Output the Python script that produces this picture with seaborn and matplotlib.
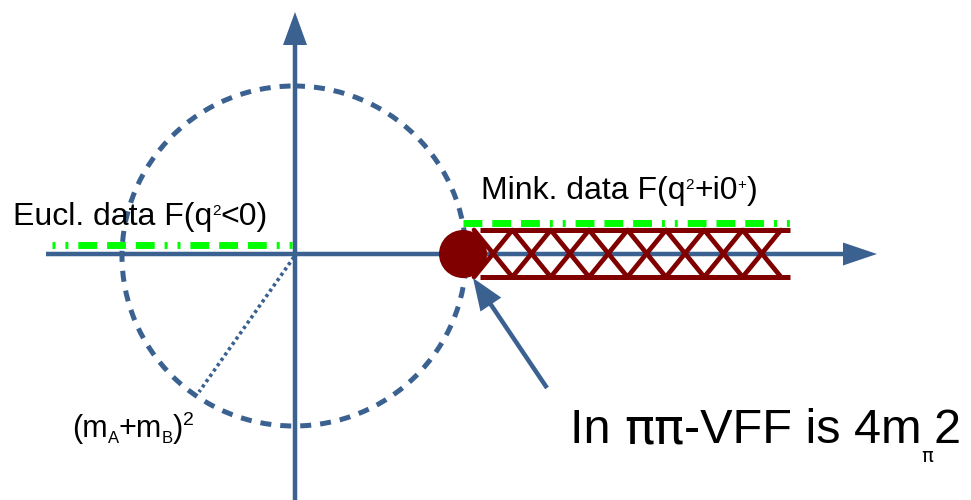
import numpy as np
import matplotlib
matplotlib.use('Agg')
import matplotlib.pyplot as plt
from matplotlib.patches import FancyArrow, Circle, Ellipse
import seaborn as sns

sns.set_theme(style='white')
plt.rcParams['font.family'] = ['Liberation Sans', 'DejaVu Sans']

# colours
blue = '#3b6190'
maroon = '#800000'
lime = '#00ff00'

# diagram geometry, pixel units (y grows downwards)
origin_x, origin_y = 295, 254
real_axis_x = [46, 877]
imag_axis_y = [500, 12]
circle_center = (294, 256)
circle_rx, circle_ry = 172, 170
threshold_x = 463
cut_x = [480, 790]
cut_top, cut_bottom = 230, 277
zigzag_x = [474, 781]
n_crosses = 8
eucl_x = [52, 295]
eucl_y = 245
mink_x = [463, 790]
mink_y = 223
radius_x = [294, 199]
radius_y = [257, 392]
pointer_tail = (547, 388)
pointer_tip = (473, 278)

# labels: (text, fontsize, vertical shift, font)
sans = 'Liberation Sans'
greek = 'DejaVu Sans'
eucl_label = [('Eucl. data F(q', 23, 0, sans), ('2', 11, -10, sans), ('<0)', 23, 0, sans)]
mink_label = [('Mink. data F(q', 23, 0, sans), ('2', 11, -10, sans), ('+i0', 23, 0, sans),
              ('+', 11, -10, sans), (')', 23, 0, sans)]
mass_label = [('(m', 22, 0, sans), ('A', 12, 6, sans), ('+m', 22, 0, sans), ('B', 12, 6, sans),
              (')', 22, 0, sans), ('2', 14, -12, sans)]
pion_label = [('In ', 35, 0, sans), ('ππ', 36, 0, greek), ('-VFF is 4m', 35, 0, sans),
              ('π', 14, 19, greek), ('2', 35, 0, sans)]

fig = plt.figure(figsize=(9.71, 5.0), dpi=100)
ax = fig.add_axes([0, 0, 1, 1])

# dashed circle
ax.add_patch(Ellipse(circle_center, 2 * circle_rx, 2 * circle_ry, fill=False,
                     edgecolor=blue, lw=3.6, linestyle=(0, (2.2, 1.8)), zorder=1))

# dotted radius
sns.lineplot(x=radius_x, y=radius_y, sort=False, estimator=None, color=blue, lw=2.6, ax=ax)
ax.lines[-1].set_linestyle((0, (0.9, 0.9)))
ax.lines[-1].set_zorder(1)

# axes arrows
ax.add_patch(FancyArrow(real_axis_x[0], origin_y, real_axis_x[1] - real_axis_x[0], 0,
                        width=4.5, head_width=23, head_length=34,
                        length_includes_head=True, color=blue, lw=0, zorder=2))
ax.add_patch(FancyArrow(origin_x, imag_axis_y[0], 0, imag_axis_y[1] - imag_axis_y[0],
                        width=4.5, head_width=24, head_length=33,
                        length_includes_head=True, color=blue, lw=0, zorder=2))

# green data lines (dot, dot, dash, dash, dash)
green_pattern = np.array([3, 10, 3, 10, 19, 10, 19, 10, 19, 10]) / 7.0
sns.lineplot(x=eucl_x, y=[eucl_y, eucl_y], sort=False, estimator=None, color=lime, lw=5.0, ax=ax)
ax.lines[-1].set_linestyle((0, tuple(green_pattern)))
ax.lines[-1].set_dash_capstyle('butt')
ax.lines[-1].set_zorder(3)
sns.lineplot(x=mink_x, y=[mink_y, mink_y], sort=False, estimator=None, color=lime, lw=5.0, ax=ax)
ax.lines[-1].set_linestyle((26 / 7.0, tuple(green_pattern)))
ax.lines[-1].set_dash_capstyle('butt')
ax.lines[-1].set_zorder(3)

# branch cut band
for yy in (cut_top, cut_bottom):
    ax.plot(cut_x, [yy, yy], color=maroon, lw=3.6, solid_capstyle='butt', zorder=4)
zx = np.linspace(zigzag_x[0], zigzag_x[1], n_crosses + 1)
zy_a = [cut_top if i % 2 == 0 else cut_bottom for i in range(len(zx))]
zy_b = [cut_bottom if i % 2 == 0 else cut_top for i in range(len(zx))]
for zy in (zy_a, zy_b):
    sns.lineplot(x=zx, y=zy, sort=False, estimator=None, color=maroon, lw=3.4, ax=ax)
    ax.lines[-1].set_zorder(4)
ax.add_patch(Circle((threshold_x, origin_y), 24, color=maroon, lw=0, zorder=5))

# pointer arrow
ax.add_patch(FancyArrow(pointer_tail[0], pointer_tail[1],
                        pointer_tip[0] - pointer_tail[0], pointer_tip[1] - pointer_tail[1],
                        width=4.5, head_width=25, head_length=32,
                        length_includes_head=True, color=blue, lw=0, zorder=6))

ax.set_xlim(0, 971)
ax.set_ylim(500, 0)
ax.axis('off')

renderer = fig.canvas.get_renderer()


def rich_text(x, y, parts):
    for s, size, dy, family in parts:
        t = ax.text(x, y + dy, s, fontsize=size, color='black', family=family,
                    ha='left', va='baseline', zorder=7)
        x += t.get_window_extent(renderer).width


rich_text(13, 225, eucl_label)
rich_text(481, 199, mink_label)
rich_text(72, 437, mass_label)
rich_text(570, 443, pion_label)

fig.savefig('out.png', dpi=100)
